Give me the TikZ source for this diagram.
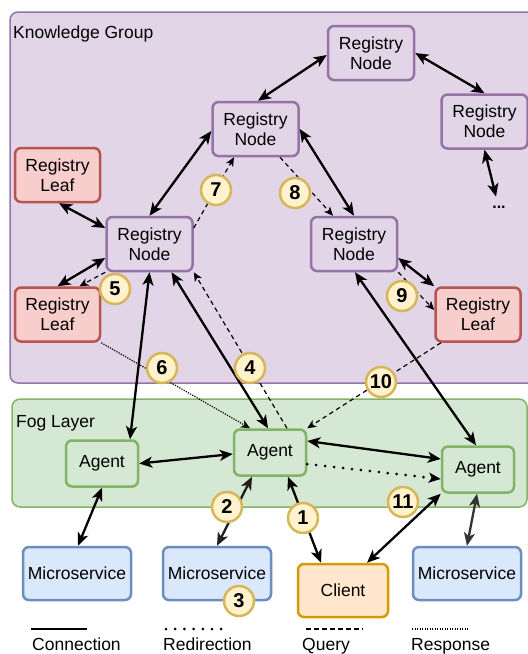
\documentclass[tikz,border=0pt]{standalone}
\usepackage{fontspec}
\setmainfont{Liberation Sans}
\usetikzlibrary{arrows.meta,calc}

\definecolor{kgFill}{HTML}{E1D5E7}
\definecolor{kgStroke}{HTML}{9673A6}
\definecolor{leafFill}{HTML}{F8CECC}
\definecolor{leafStroke}{HTML}{B85450}
\definecolor{fogFill}{HTML}{D5E8D4}
\definecolor{fogStroke}{HTML}{82B366}
\definecolor{msFill}{HTML}{DAE8FC}
\definecolor{msStroke}{HTML}{6C8EBF}
\definecolor{clFill}{HTML}{FFE6CC}
\definecolor{clStroke}{HTML}{D79B00}
\definecolor{bdgFill}{HTML}{FFF2CC}
\definecolor{bdgStroke}{HTML}{D6B656}

\tikzset{
  panel/.style={rounded corners=8pt, line width=1.5pt},
  box/.style={rectangle, rounded corners=6pt, line width=2.5pt, align=center,
    inner sep=0pt, font=\fontsize{17.5}{20}\selectfont},
  regnode/.style={box, draw=kgStroke, fill=kgFill, minimum width=86pt, minimum height=54pt},
  regleaf/.style={box, draw=leafStroke, fill=leafFill, minimum width=85pt, minimum height=54pt},
  agent/.style={box, draw=fogStroke, fill=fogFill, minimum width=72pt, minimum height=46pt},
  micro/.style={box, draw=msStroke, fill=msFill, minimum width=108pt, minimum height=53pt},
  client/.style={box, draw=clStroke, fill=clFill, minimum width=90pt, minimum height=53pt},
  badge/.style={circle, draw=bdgStroke, fill=bdgFill, line width=2.5pt, minimum size=30pt,
    inner sep=0pt, font=\bfseries\fontsize{20}{20}\selectfont},
  grouplabel/.style={anchor=base west, inner sep=0pt, font=\fontsize{17.5}{20}\selectfont},
  link/.style={line width=2.3pt,
    arrows={Stealth[length=13pt,width=11pt,inset=3.5pt]-Stealth[length=13pt,width=11pt,inset=3.5pt]}},
  query/.style={line width=1.2pt, dash pattern=on 4.5pt off 3.5pt,
    -{Stealth[length=9pt,width=8pt,inset=2.5pt]}},
  response/.style={line width=1.2pt, dash pattern=on 1.2pt off 1.3pt,
    -{Stealth[length=9pt,width=8pt,inset=2.5pt]}},
  redirect/.style={line width=3pt, line cap=round, dash pattern=on 0pt off 9pt,
    -{Stealth[length=12pt,width=10pt,inset=3pt]}},
}

\begin{document}
\begin{tikzpicture}[x=1pt,y=-1pt]
\useasboundingbox (0,0) rectangle (528,654);

% group panels
\draw[panel, draw=kgStroke, fill=kgFill] (10,12) rectangle (545,383);
\node[grouplabel] (kgTitle) at (13,38) {Knowledge Group};
\draw[panel, draw=fogStroke, fill=fogFill] (12,399) rectangle (527,507);
\node[grouplabel] (fogTitle) at (16,427) {Fog Layer};

% registry tree
\node[regnode] (rnTop)   at (371,53)    {Registry\\Node};
\node[regnode] (rnRight) at (484.5,121.5) {Registry\\Node};
\node[regnode] (rnMid)   at (255.5,129) {Registry\\Node};
\node[regleaf] (leafTL)  at (57.5,175)  {Registry\\Leaf};
\node[regnode] (rnLeft)  at (149.5,244) {Registry\\Node};
\node[regleaf] (leafBL)  at (57.5,314.5) {Registry\\Leaf};
\node[regnode] (rnRM)    at (354,244)   {Registry\\Node};
\node[regleaf] (leafR)   at (478,314.5) {Registry\\Leaf};
\node[inner sep=0pt, font=\bfseries\fontsize{16}{16}\selectfont] (more) at (499,207) {...};

% fog agents and services
\node[agent] (agL) at (102,463.5) {Agent};
\node[agent] (agM) at (270,452.5) {Agent};
\node[agent] (agR) at (478,469.5) {Agent};
\node[micro] (msL) at (77,573.5)  {Microservice};
\node[micro] (msM) at (217,573.5) {Microservice};
\node[micro] (msR) at (467,573.5) {Microservice};
\node[client] (cli) at (343,590.5) {Client};

% connections
\draw[link] ($(rnTop.west)+(0,2)$) -- ($(rnMid.north)+(2.5,0)$);
\draw[link] (rnTop.east) -- (rnRight.north);
\draw[link] (rnRight.south) -- ($(more.north)+(-3,-9)$);
\draw[link] ($(rnMid.west)+(0,2)$) -- (rnLeft.north);
\draw[link] (rnMid.east) -- (rnRM.north);
\draw[link] ($(leafTL.south)+(1.5,0)$) -- ($(rnLeft.west)+(0,-16)$);
\draw[link] ($(rnLeft.west)+(0,14)$) -- (leafBL.north);
\draw[link] ($(rnRM.east)+(0,14)$) -- (leafR.north west);
\draw[link] (rnLeft.south) -- ($(agL.north)+(28,0)$);
\draw[link] ($(rnLeft.south)+(22,0)$) -- ($(agM.north)+(-2,0)$);
\draw[link] ($(rnRM.south)+(1,0)$) -- ($(agR.north)+(-2,0)$);
\draw[link] (agL.east) -- ($(agM.west)+(0,1.5)$);
\draw[link] ($(agM.east)+(0,-11.5)$) -- ($(agR.west)+(0,-10.5)$);
\draw[link] (agL.south) -- ($(msL.north)+(1,0)$);
\draw[link, draw=black!88] ($(agM.south)+(-18,0)$) -- (msM.north);
\draw[link] ($(agM.south)+(18,0)$) -- ($(cli.north)+(-22,0)$);
\draw[link] (agR.south west) -- ($(cli.north)+(24,0)$);
\draw[link, draw=black!80] ($(agR.south)+(-1,0)$) -- (msR.north);

% queries
\draw[query] ($(agM.north)+(17,0)$) -- (rnLeft.south east);
\draw[query] ($(rnLeft.east)+(0,-16)$) -- ($(rnMid.south)+(-21.5,0)$);
\draw[query] ($(rnMid.south)+(24.5,0)$) -- ($(rnRM.north)+(-21,0)$);
\draw[query] (rnLeft.south west) -- ($(leafBL.north)+(22,0)$);
\draw[query] (rnRM.south east) -- ($(leafR.west)+(0,-4.5)$);
\draw[query] ($(leafR.south)+(-37,0)$) -- (agM.north east);

% response and redirection
\draw[response] (leafBL.south east) -- ($(agM.north)+(-20,0)$);
\draw[redirect] ($(agM.east)+(0,11.5)$) -- ($(agR.west)+(0,9.5)$);

% step numbers
\node[badge] (b1)  at (303,518) {1};
\node[badge] (b2)  at (227,507) {2};
\node[badge] (b3)  at (239,601) {3};
\node[badge] (b4)  at (250,368) {4};
\node[badge] (b5)  at (115,289) {5};
\node[badge] (b6)  at (162,368) {6};
\node[badge] (b7)  at (216,190) {7};
\node[badge] (b8)  at (295,193) {8};
\node[badge] (b9)  at (402,296) {9};
\node[badge] (b10) at (381,382) {10};
\node[badge] (b11) at (403,502) {11};

% legend
\coordinate (lgConA) at (31,629);  \coordinate (lgConB) at (87,629);
\coordinate (lgRedA) at (166,629); \coordinate (lgRedB) at (222,629);
\coordinate (lgQryA) at (306,629); \coordinate (lgQryB) at (363,629);
\coordinate (lgRspA) at (412,629); \coordinate (lgRspB) at (468,629);
\draw[line width=2.5pt] (lgConA) -- (lgConB);
\draw[line width=3pt, line cap=round, dash pattern=on 0pt off 9.2pt] (lgRedA) -- (lgRedB);
\draw[line width=1.2pt, dash pattern=on 4.5pt off 3.5pt] (lgQryA) -- (lgQryB);
\draw[line width=1.2pt, dash pattern=on 1.2pt off 1.3pt] (lgRspA) -- (lgRspB);
\node[grouplabel] (lgCon) at (32,650)  {Connection};
\node[grouplabel] (lgRed) at (163,650) {Redirection};
\node[grouplabel] (lgQry) at (302,650) {Query};
\node[grouplabel] (lgRsp) at (411,650) {Response};
\end{tikzpicture}
\end{document}
